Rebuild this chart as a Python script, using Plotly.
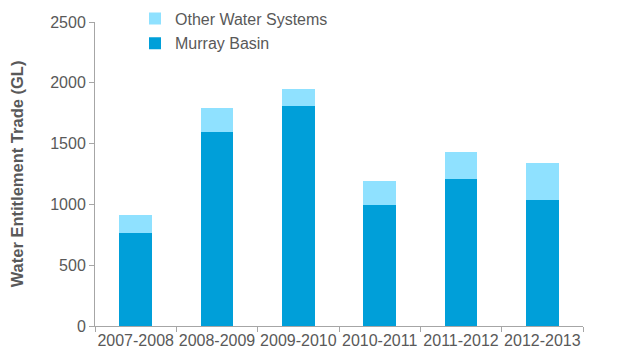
import plotly.graph_objects as go

years = ["2007-2008", "2008-2009", "2009-2010", "2010-2011", "2011-2012", "2012-2013"]
murray_basin = [767, 1595, 1812, 993, 1211, 1039]
other_systems = [148, 200, 134, 197, 220, 301]

murray_color = "#009FD9"
other_color = "#8FE1FF"
text_color = "#595959"
axis_color = "#A6A6A6"

fig = go.Figure()
fig.add_trace(go.Bar(x=years, y=murray_basin, name="Murray Basin",
                     marker=dict(color=murray_color, line=dict(width=0)),
                     legendgroup="a", legendrank=2))
fig.add_trace(go.Bar(x=years, y=other_systems, name="Other Water Systems",
                     marker=dict(color=other_color, line=dict(width=0)),
                     legendgroup="b", legendrank=1))

W, H = 619, 354
ml, mr, mt, mb = 95, 36, 22, 28
pw = W - ml - mr
ph = H - mt - mb

fig.update_layout(
    barmode="stack",
    bargap=0.6,
    width=W, height=H,
    margin=dict(l=ml, r=mr, t=mt, b=mb, autoexpand=False),
    paper_bgcolor="white", plot_bgcolor="white",
    font=dict(family="Liberation Sans, Arial, sans-serif", size=16, color=text_color),
    legend=dict(x=(135 - ml) / pw, y=1 + (mt - 1.5) / ph, xanchor="left", yanchor="top",
                tracegroupgap=1,
                font=dict(size=16, color=text_color), itemwidth=30,
                bgcolor="rgba(0,0,0,0)"),
    xaxis=dict(showline=True, linecolor=axis_color, linewidth=1,
               ticks="outside", ticklen=5, tickcolor=axis_color, tickangle=0,
               tickson="boundaries", showgrid=False, automargin=False,
               tickfont=dict(size=16, color=text_color)),
    yaxis=dict(range=[0, 2500], dtick=500, showline=True, linecolor=axis_color,
               linewidth=1, ticks="outside", ticklen=5, tickcolor=axis_color,
               showgrid=False, zeroline=False, automargin=False,
               tickfont=dict(size=16, color=text_color),
               title=dict(text="<b>Water Entitlement Trade (GL)</b>",
                          font=dict(size=16.5, color=text_color), standoff=22)),
)

fig.write_html("out.html", config={"displayModeBar": False},
               post_script="document.body.style.margin='0';document.body.style.overflow='hidden';")
